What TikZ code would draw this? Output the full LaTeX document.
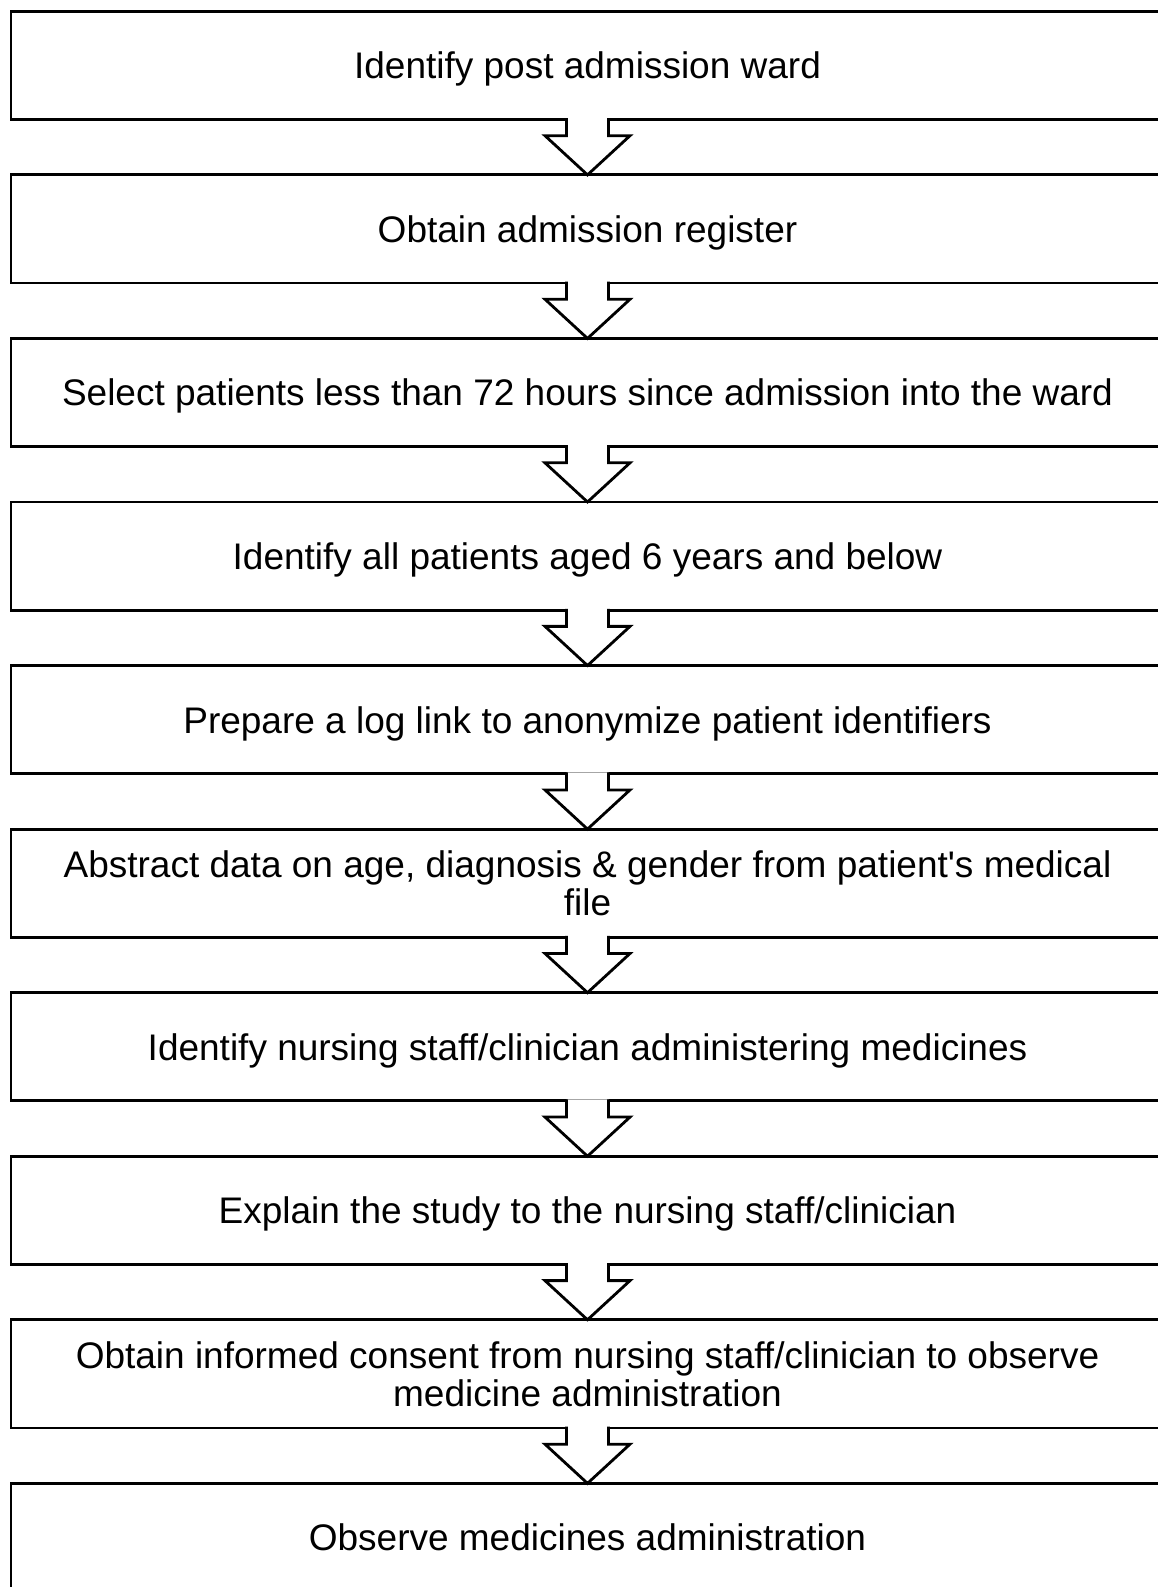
\documentclass[tikz,border=0pt]{standalone}
\usepackage{fontspec}
\setmainfont{Liberation Sans}
\usetikzlibrary{positioning}

\tikzstyle{step_box}=[rectangle, draw=black, line width=1.4pt, minimum width=576.5pt, minimum height=54.1pt, inner sep=0pt, outer sep=0pt, text depth=0pt, align=center, font=\fontsize{18.5}{18.75}\selectfont]
\tikzstyle{flow_arrow}=[draw=black, line width=1.4pt, fill=white, line join=miter]

\begin{document}
\begin{tikzpicture}[node distance = 27.68pt and 0pt]
      \useasboundingbox (0,0) rectangle (579pt,-793.5pt);
      \clip (0,0) rectangle (579pt,-793.5pt);

      %%%%%%%%%%%%%%%%%%%%%%%%%%%%%%%%%%%%%%%%%%%%%%%%%
      % STEPS
      %%%%%%%%%%%%%%%%%%%%%%%%%%%%%%%%%%%%%%%%%%%%%%%%%
      \node[step_box] at (293.75pt,-32.7pt) (S1) {Identify post admission ward};
      \node[step_box, below=of S1] (S2) {Obtain admission register};
      \node[step_box, below=of S2] (S3) {Select patients less than 72 hours since admission into the ward};
      \node[step_box, below=of S3] (S4) {Identify all patients aged 6 years and below};
      \node[step_box, below=of S4] (S5) {Prepare a log link to anonymize patient identifiers};
      \node[step_box, below=of S5] (S6) {Abstract data on age, diagnosis \& gender from patient\textquotesingle s medical\\file};
      \node[step_box, below=of S6] (S7) {Identify nursing staff/clinician administering medicines};
      \node[step_box, below=of S7] (S8) {Explain the study to the nursing staff/clinician};
      \node[step_box, below=of S8] (S9) {Obtain informed consent from nursing staff/clinician to observe\\medicine administration};
      \node[step_box, below=of S9] (S10) {Observe medicines administration};

      %%%%%%%%%%%%%%%%%%%%%%%%%%%%%%%%%%%%%%%%%%%%%%%%%
      % BLOCK ARROWS
      %%%%%%%%%%%%%%%%%%%%%%%%%%%%%%%%%%%%%%%%%%%%%%%%%
      \foreach \i [evaluate=\i as \j using int(\i+1)] in {1,...,9}{
        \path[flow_arrow] ([xshift=-10.5pt,yshift=0.7pt]S\i.south) -- ([xshift=-10.5pt,yshift=-8.1pt]S\i.south)
          -- ([xshift=-21.25pt,yshift=-8.1pt]S\i.south) -- (S\j.north)
          -- ([xshift=21.25pt,yshift=-8.1pt]S\i.south) -- ([xshift=10.5pt,yshift=-8.1pt]S\i.south)
          -- ([xshift=10.5pt,yshift=0.7pt]S\i.south);
      }
\end{tikzpicture}
\end{document}
